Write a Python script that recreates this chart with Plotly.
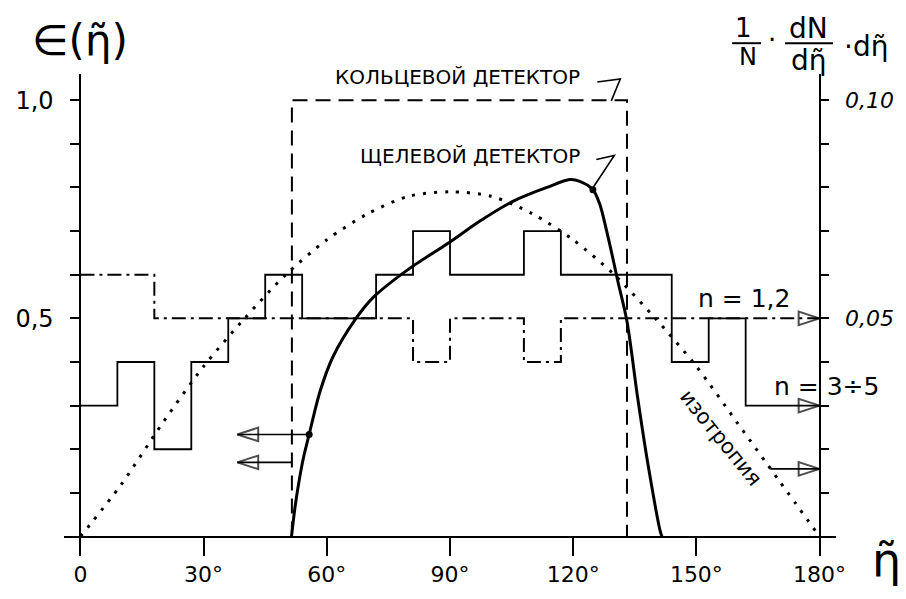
import plotly.graph_objects as go

# ---- data -------------------------------------------------------------
# histogram bin edges, degrees
bin_edges = [0, 9, 18, 27, 36, 45, 54, 63, 72, 81, 90, 99, 108, 117, 126,
             135, 144, 153, 162, 171, 180]
# (1/N)(dN/dη)dη per bin, multiplicity n = 1,2 (dash-dot)
hist_n12 = [0.06, 0.06, 0.05, 0.05, 0.05, 0.05, 0.05, 0.05, 0.05, 0.04,
            0.05, 0.05, 0.04, 0.05, 0.05, 0.05, 0.05, 0.05, 0.05, 0.05]
# multiplicity n = 3÷5 (solid)
hist_n35 = [0.03, 0.04, 0.02, 0.04, 0.05, 0.06, 0.05, 0.05, 0.06, 0.07,
            0.06, 0.06, 0.07, 0.06, 0.06, 0.06, 0.04, 0.05, 0.03, 0.03]

# isotropic distribution (right scale)
iso_deg = [0, 10, 20, 30, 40, 50, 60, 70, 80, 90, 100, 110, 120, 130, 140,
           150, 160, 170, 180]
iso_val = [0.0, 0.012, 0.026, 0.039, 0.050, 0.060, 0.068, 0.074, 0.078, 0.079,
           0.078, 0.074, 0.068, 0.060, 0.050, 0.039, 0.026, 0.013, 0.0]

# slit detector efficiency (left scale)
slit_deg = [51.4, 52.3, 53.3, 54.3, 55.7, 58.4, 61.5, 66.9, 71.3, 79.5, 90.0,
            97.3, 105.3, 113.6, 119.2, 121.6, 124.8, 126.5, 128.2, 129.7,
            130.9, 133.1, 135.7, 138.2, 141.1, 141.6]
slit_eff = [0.0, 0.07, 0.13, 0.18, 0.234, 0.334, 0.412, 0.497, 0.548, 0.610,
            0.675, 0.723, 0.768, 0.800, 0.818, 0.814, 0.795, 0.761, 0.698,
            0.636, 0.584, 0.493, 0.318, 0.166, 0.016, 0.0]

# ring detector acceptance (left scale)
ring_deg = [51.5, 51.5, 133.1, 133.1]
ring_eff = [0.0, 1.0, 1.0, 0.0]

# axis ticks
x_ticks = [0, 30, 60, 90, 120, 150, 180]
x_ticktext = ["0", "30°", "60°", "90°", "120°", "150°", "180°"]
left_ticks = [0.1, 0.2, 0.3, 0.4, 0.5, 0.6, 0.7, 0.8, 0.9, 1.0]
left_ticktext = ["", "", "", "", "0,5", "", "", "", "", "1,0"]
right_ticks = [0.01, 0.02, 0.03, 0.04, 0.05, 0.06, 0.07, 0.08, 0.09, 0.10]
right_ticktext = ["", "", "", "", "0,05", "", "", "", "", "0,10"]

# pointer arrows toward the scales
left_arrow_tip = 38.2          # degrees
ring_arrow_level = 0.17        # efficiency
iso_arrow_deg = 168.0
iso_arrow_val = 0.0155

# ---- layout geometry --------------------------------------------------
W, H = 906, 599
ML, MR, MT, MB = 64, 69, 74, 42
X_RANGE = [-4, 184]
Y_RANGE = [-0.04, 1.06]
PW, PH = W - ML - MR, H - MT - MB


def P(px, py):
    """pixel position -> paper coordinates"""
    return (px - ML) / PW, (H - MB - py) / PH


FONT = "DejaVu Sans"
INK = "black"


def step_xy(edges, vals):
    return list(edges), list(vals) + [vals[-1]]


fig = go.Figure()

# ring detector (dashed box)
fig.add_trace(go.Scatter(x=ring_deg, y=ring_eff, mode="lines",
                         line=dict(color=INK, width=2, dash="15px,8px"),
                         hoverinfo="skip", showlegend=False))

# isotropy (dotted, right scale)
fig.add_trace(go.Scatter(x=iso_deg, y=iso_val, yaxis="y2", mode="lines",
                         line=dict(color=INK, width=3, dash="3px,8px",
                                   shape="spline", smoothing=0.8),
                         hoverinfo="skip", showlegend=False))

# n = 1,2 histogram (dash-dot)
hx, hy = step_xy(bin_edges, hist_n12)
fig.add_trace(go.Scatter(x=hx, y=hy, yaxis="y2", mode="lines",
                         line=dict(color=INK, width=2, shape="hv",
                                   dash="14px,5px,3px,5px"),
                         hoverinfo="skip", showlegend=False))

# n = 3÷5 histogram (solid)
hx, hy = step_xy(bin_edges, hist_n35)
fig.add_trace(go.Scatter(x=hx, y=hy, yaxis="y2", mode="lines",
                         line=dict(color=INK, width=1.8, shape="hv"),
                         hoverinfo="skip", showlegend=False))

# slit detector efficiency (solid curve)
fig.add_trace(go.Scatter(x=slit_deg, y=slit_eff, mode="lines",
                         line=dict(color=INK, width=3, shape="spline",
                                   smoothing=0.9),
                         hoverinfo="skip", showlegend=False))

# dots on the slit curve
i_low = slit_deg.index(55.7)
i_top = slit_deg.index(124.8)
fig.add_trace(go.Scatter(x=[slit_deg[i_low], slit_deg[i_top]],
                         y=[slit_eff[i_low], slit_eff[i_top]], mode="markers",
                         marker=dict(color=INK, size=7),
                         hoverinfo="skip", showlegend=False))

ARROW = dict(color=INK, size=[5, 22], symbol=["circle", "arrow-open"],
             angleref="previous", line=dict(color=INK, width=2))

# arrows pointing to the left scale
fig.add_trace(go.Scatter(x=[slit_deg[i_low], left_arrow_tip],
                         y=[slit_eff[i_low]] * 2, mode="lines+markers",
                         line=dict(color=INK, width=1.6), marker=ARROW,
                         hoverinfo="skip", showlegend=False))
fig.add_trace(go.Scatter(x=[ring_deg[0], left_arrow_tip],
                         y=[ring_arrow_level] * 2, mode="lines+markers",
                         line=dict(color=INK, width=1.6), marker=ARROW,
                         hoverinfo="skip", showlegend=False))

# arrows pointing to the right scale
fig.add_trace(go.Scatter(x=[iso_arrow_deg, bin_edges[-1]],
                         y=[iso_arrow_val] * 2, yaxis="y2",
                         mode="lines+markers",
                         line=dict(color=INK, width=1.6),
                         marker=dict(ARROW, size=[8, 22]),
                         hoverinfo="skip", showlegend=False))
for hv in (hist_n12, hist_n35):
    fig.add_trace(go.Scatter(x=[bin_edges[-2], bin_edges[-1]],
                             y=[hv[-1]] * 2, yaxis="y2", mode="markers",
                             marker=dict(ARROW, size=[0, 22]),
                             hoverinfo="skip", showlegend=False))

# ---- axes -------------------------------------------------------------
axis_common = dict(showgrid=False, zeroline=False, showline=True,
                   linecolor=INK, linewidth=2, ticks="outside",
                   tickcolor=INK, tickwidth=2, fixedrange=True)

fig.update_layout(
    width=W, height=H, autosize=False,
    margin=dict(l=ML, r=MR, t=MT, b=MB, pad=0),
    paper_bgcolor="white", plot_bgcolor="white",
    font=dict(family=FONT, color=INK),
    xaxis=dict(axis_common, range=X_RANGE, anchor="free",
               position=(0 - Y_RANGE[0]) / (Y_RANGE[1] - Y_RANGE[0]),
               tickmode="array", tickvals=x_ticks, ticktext=x_ticktext,
               ticklen=18, tickfont=dict(size=22, family=FONT)),
    yaxis=dict(axis_common, range=Y_RANGE, anchor="free",
               position=(0 - X_RANGE[0]) / (X_RANGE[1] - X_RANGE[0]),
               tickmode="array", tickvals=left_ticks, ticktext=left_ticktext,
               ticklen=9, ticklabelstandoff=12,
               tickfont=dict(size=24, family=FONT)),
    yaxis2=dict(axis_common, range=[v * 0.1 for v in Y_RANGE],
                overlaying="y", side="right", anchor="free",
                position=(180 - X_RANGE[0]) / (X_RANGE[1] - X_RANGE[0]),
                tickmode="array", tickvals=right_ticks,
                ticktext=right_ticktext, ticklen=8, ticklabelstandoff=12,
                tickfont=dict(size=22, family=FONT, style="italic")),
)

# ---- text -------------------------------------------------------------
texts = [
    ("∈(η̃)", 80, 40, 42, 0),
    ("1", 744, 28, 26, 0),
    ("N", 749, 57, 24, 0),
    ("·", 773, 40, 26, 0),
    ("dN", 809, 28, 28, 0),
    ("dη̃", 810, 60, 28, 0),
    ("·dη̃", 867, 46, 28, 0),
    ("КОЛЬЦЕВОЙ ДЕТЕКТОР", 458, 77, 20, 0),
    ("ЩЕЛЕВОЙ ДЕТЕКТОР", 471, 157, 20, 0),
    ("n = 1,2", 745, 300, 25, 0),
    ("n = 3÷5", 827, 388, 25, 0),
    ("изотропия", 722, 440, 21, 51),
    ("η̃", 888, 563, 46, 0),
]
for txt, px, py, size, ang in texts:
    x, y = P(px, py)
    fig.add_annotation(text=txt, x=x, y=y, xref="paper", yref="paper",
                       xanchor="center", yanchor="middle", showarrow=False,
                       textangle=ang, font=dict(size=size, family=FONT,
                                                color=INK))


def path(points):
    segs = []
    for k, (px, py) in enumerate(points):
        x, y = P(px, py)
        segs.append(("M" if k == 0 else "L") + f"{x:.5f},{y:.5f}")
    return " ".join(segs)


# fraction bars of the right-hand scale title
for pts in ([(733, 43), (762, 43)], [(786, 43), (834, 43)]):
    fig.add_shape(type="path", path=path(pts), xref="paper", yref="paper",
                  line=dict(color=INK, width=2))
# leader lines from the labels
for pts in ([(598, 82), (621, 79), (612, 101)],
            [(597, 160), (615, 156), (594, 188)]):
    fig.add_shape(type="path", path=path(pts), xref="paper", yref="paper",
                  line=dict(color=INK, width=1.6))

fig.write_html("out.html")
